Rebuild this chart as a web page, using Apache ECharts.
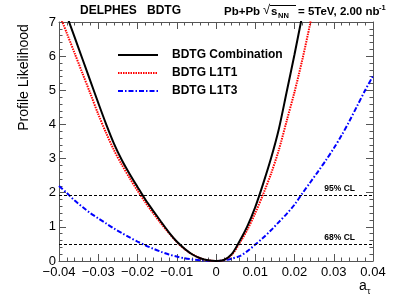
<!DOCTYPE html>
<html>
<head>
<meta charset="utf-8">
<script src="https://cdn.jsdelivr.net/npm/echarts@6/dist/echarts.min.js"></script>
<style>
html,body{margin:0;padding:0;background:#fff;}
#chart{width:399px;height:303px;}
</style>
</head>
<body>
<div id="chart"></div>
<script>
// ---- data ----
const xValues = [-0.040,-0.038,-0.036,-0.034,-0.032,-0.030,-0.028,-0.026,-0.024,-0.022,-0.020,-0.018,-0.016,-0.014,-0.012,-0.010,-0.008,-0.006,-0.004,-0.002,0.000,0.002,0.004,0.006,0.008,0.010,0.012,0.014,0.016,0.018,0.020,0.022,0.024,0.026,0.028,0.030,0.032,0.034,0.036,0.038,0.040];
const combination = [7.8,7.18,6.55,5.91,5.27,4.63,4.01,3.44,2.96,2.55,2.17,1.80,1.47,1.15,0.84,0.57,0.36,0.19,0.08,0.02,0.0,0.03,0.20,0.58,1.02,1.58,2.26,3.00,3.86,4.95,6.05,7.2,8.3,null,null,null,null,null,null,null,null];
const l1t1 = [7.25,6.67,6.08,5.49,4.90,4.30,3.75,3.25,2.82,2.43,2.06,1.72,1.40,1.10,0.82,0.56,0.35,0.19,0.08,0.02,0.0,0.03,0.18,0.52,0.92,1.40,1.95,2.55,3.25,4.10,4.95,5.90,6.95,8.0,null,null,null,null,null,null,null];
const l1t3 = [2.20,1.99,1.77,1.58,1.40,1.25,1.10,0.95,0.82,0.69,0.57,0.46,0.36,0.27,0.19,0.13,0.08,0.045,0.02,0.005,0.0,0.02,0.07,0.14,0.29,0.48,0.68,0.90,1.14,1.38,1.65,1.98,2.30,2.62,2.95,3.30,3.68,4.10,4.55,5.00,5.42];
const seriesNames = ['BDTG Combination','BDTG L1T1','BDTG L1T3'];
const clLevels = [1.92, 0.5];
const clLabels = ['95% CL', '68% CL'];
const xRange = [-0.04, 0.04];
const yRange = [0, 7];

const FONT = 'Liberation Sans, Arial, Helvetica, sans-serif';
const pair = arr => xValues.map((x, i) => [x, arr[i]]);
const fmt = v => {
  const r = Math.round(v * 100) / 100;
  if (r === 0) return '0';
  return String(r).replace('-', '\u2212');
};

const seriesStyles = [
  {color: '#000000', width: 2, type: 'solid', dash: null},
  {color: '#ff0000', width: 2, type: [1.5, 1], dash: [1.5, 1]},
  {color: '#0000ff', width: 2, type: [5, 2, 1.5, 2], dash: [5, 2, 1.5, 2]}
];
const seriesData = [combination, l1t1, l1t3];

const chart = echarts.init(document.getElementById('chart'), null, {renderer: 'canvas'});
const axisColor = '#555';
const baseX = {
  type: 'value', min: xRange[0], max: xRange[1], interval: 0.01,
  axisLine: {show: true, onZero: false, lineStyle: {color: axisColor, width: 1}},
  axisTick: {show: true, inside: true, length: 7, lineStyle: {color: axisColor}},
  minorTick: {show: true, splitNumber: 5, length: 3.5, lineStyle: {color: axisColor}},
  splitLine: {show: false}, minorSplitLine: {show: false}
};
const baseY = {
  type: 'value', min: yRange[0], max: yRange[1], interval: 1,
  axisLine: {show: true, onZero: false, lineStyle: {color: axisColor, width: 1}},
  axisTick: {show: true, inside: true, length: 7, lineStyle: {color: axisColor}},
  minorTick: {show: true, splitNumber: 5, length: 3.5, lineStyle: {color: axisColor}},
  splitLine: {show: false}, minorSplitLine: {show: false}
};

const clSeries = [{
  type: 'line', name: 'CL', data: [], symbol: 'none', silent: true,
  markLine: {
    silent: true, symbol: 'none',
    lineStyle: {color: '#000', width: 1, type: [3, 2]},
    label: {show: true, position: 'insideEndTop', distance: [18, 2],
            color: '#000', fontFamily: FONT, fontSize: 8.5, fontWeight: 'bold',
            formatter: p => p.name},
    data: clLevels.map((lv, i) => ({yAxis: lv, name: clLabels[i]}))
  },
  z: 1
}];

const lineSeries = seriesNames.map((nm, i) => ({
  type: 'line', name: nm, data: pair(seriesData[i]), symbol: 'none', smooth: 0.3, clip: true,
  itemStyle: {color: seriesStyles[i].color},
  lineStyle: {color: seriesStyles[i].color, width: seriesStyles[i].width, type: seriesStyles[i].type},
  z: 5 - i
})).reverse();

// legend drawn as graphic entries
const legendGraphics = [];
seriesNames.forEach((nm, i) => {
  const cy = 55 + i * 18;
  legendGraphics.push({type: 'line', shape: {x1: 118, y1: cy, x2: 158, y2: cy},
    style: {stroke: seriesStyles[i].color, lineWidth: 2, lineDash: seriesStyles[i].dash}});
  legendGraphics.push({type: 'text', x: 172, y: cy,
    style: {text: nm, font: 'bold 12px ' + FONT, fill: '#000', verticalAlign: 'middle'}});
});

const option = {
  animation: false,
  backgroundColor: '#fff',
  grid: {left: 59, right: 26, top: 22, bottom: 42, containLabel: false},
  xAxis: [
    Object.assign({}, baseX, {position: 'bottom',
      axisLabel: {show: true, margin: 5, color: '#000', fontFamily: FONT, fontSize: 13, formatter: fmt}}),
    Object.assign({}, baseX, {position: 'top', axisLabel: {show: false}})
  ],
  yAxis: [
    Object.assign({}, baseY, {position: 'left',
      axisLabel: {show: true, margin: 3, color: '#000', fontFamily: FONT, fontSize: 13}}),
    Object.assign({}, baseY, {position: 'right', axisLabel: {show: false}})
  ],
  series: [...clSeries, ...lineSeries],
  graphic: [
    ...legendGraphics,
    {type: 'text', left: 80, top: 5, style: {text: 'DELPHES', font: 'bold 12px ' + FONT, fill: '#000'}},
    {type: 'text', left: 147, top: 5, style: {text: 'BDTG', font: 'bold 12px ' + FONT, fill: '#000'}},
    {type: 'text', left: 224, top: 6, style: {text: 'Pb+Pb', font: 'bold 11.5px ' + FONT, fill: '#000'}},
    {type: 'text', left: 263, top: 4, style: {text: '\u221A', font: '13px ' + FONT, fill: '#000'}},
    {type: 'line', shape: {x1: 270, y1: 5.5, x2: 296, y2: 5.5}, style: {stroke: '#000', lineWidth: 1}},
    {type: 'text', left: 271, top: 6, style: {text: 's', font: 'bold 11.5px ' + FONT, fill: '#000'}},
    {type: 'text', left: 278, top: 12, style: {text: 'NN', font: 'bold 7.5px ' + FONT, fill: '#000'}},
    {type: 'text', left: 298, top: 6, style: {text: '= 5TeV, 2.00 nb', font: 'bold 11.5px ' + FONT, fill: '#000'}},
    {type: 'text', left: 379, top: 4, style: {text: '-1', font: 'bold 7.5px ' + FONT, fill: '#000'}},
    {type: 'text', x: 24, y: 77.5, rotation: Math.PI / 2,
     style: {text: 'Profile Likelihood', font: '14px ' + FONT, fill: '#000', align: 'center', verticalAlign: 'middle'}},
    {type: 'text', left: 359, top: 279, style: {text: 'a', font: '14px ' + FONT, fill: '#000'}},
    {type: 'text', left: 367, top: 287, style: {text: '\u03C4', font: '9px ' + FONT, fill: '#000'}}
  ]
};
chart.setOption(option);
</script>
</body>
</html>
